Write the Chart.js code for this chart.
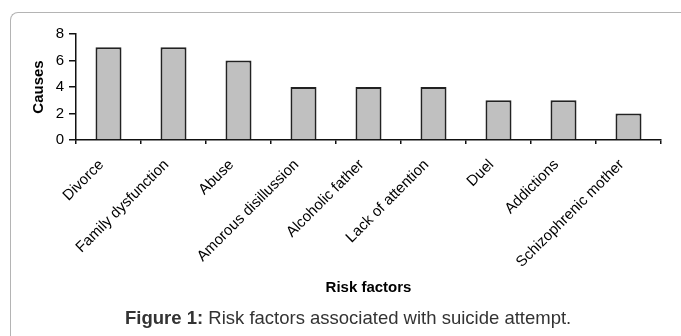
<!DOCTYPE html>
<html>
<head>
<meta charset="utf-8">
<script src="https://cdn.jsdelivr.net/npm/chart.js@4/dist/chart.umd.min.js"></script>
<style>
  html, body { margin: 0; padding: 0; background: #fff; }
  #wrap { position: relative; width: 681px; height: 336px; overflow: hidden; }
  #frame {
    position: absolute; left: 10px; top: 12px; width: 700px; height: 360px;
    border-left: 1px solid #b4b4b4; border-top: 1px solid #b4b4b4;
    border-top-left-radius: 8px; box-sizing: border-box;
  }
  #chart { position: absolute; left: 0; top: 0; }
  #caption {
    position: absolute; left: 125px; top: 309px; line-height: 18px;
    font-family: "Liberation Sans", Arial, sans-serif; font-size: 18.5px;
    color: #333; white-space: nowrap;
  }
</style>
</head>
<body>
<div id="wrap">
  <div id="frame"></div>
  <canvas id="chart" width="681" height="336"></canvas>
  <div id="caption"><b>Figure 1:</b> Risk factors associated with suicide attempt.</div>
</div>
<script>
// Risk factors and number of causes
const categories = ['Divorce', 'Family dysfunction', 'Abuse', 'Amorous disillussion',
  'Alcoholic father', 'Lack of attention', 'Duel', 'Addictions', 'Schizophrenic mother'];
const causes = [7, 7, 6, 4, 4, 4, 3, 3, 2];
const yTicks = [0, 2, 4, 6, 8];

const FONT = '"Liberation Sans", Arial, sans-serif';

new Chart(document.getElementById('chart'), {
  type: 'bar',
  data: {
    labels: categories,
    datasets: [{
      data: causes,
      backgroundColor: '#c0c0c0',
      borderColor: '#222',
      borderWidth: 2,
      categoryPercentage: 1,
      barPercentage: 0.4
    }]
  },
  options: {
    responsive: false,
    animation: false,
    events: [],
    layout: { padding: { left: 0, right: 20, top: 34, bottom: 39 } },
    plugins: { legend: { display: false }, tooltip: { enabled: false }, title: { display: false } },
    scales: {
      x: {
        type: 'category',
        offset: true,
        grid: { display: true, drawOnChartArea: false, drawTicks: true, tickLength: 4, color: '#111', lineWidth: 1.5, offset: true },
        border: { display: true, color: '#111', width: 1.5 },
        ticks: {
          autoSkip: false, minRotation: 45, maxRotation: 45, padding: 12, labelOffset: -7,
          color: '#000', font: { family: FONT, size: 15 }
        },
        title: {
          display: true, text: 'Risk factors', color: '#000',
          font: { family: FONT, size: 15, weight: 'bold' }, padding: { top: 0, bottom: 0 }
        },
        afterFit: s => { s.height = 157; }
      },
      y: {
        min: 0, max: 8,
        afterBuildTicks: s => { s.ticks = yTicks.map(v => ({ value: v })); },
        grid: { display: true, drawOnChartArea: false, drawTicks: true, tickLength: 7, color: '#111', lineWidth: 1.5 },
        border: { display: true, color: '#111', width: 1.5 },
        ticks: { padding: 5, color: '#000', font: { family: FONT, size: 15 } },
        title: {
          display: true, text: 'Causes', color: '#000',
          font: { family: FONT, size: 15, weight: 'bold' }, padding: { top: 30, bottom: 0 }
        },
        afterFit: s => { s.width = 76; }
      }
    }
  }
});
</script>
</body>
</html>
